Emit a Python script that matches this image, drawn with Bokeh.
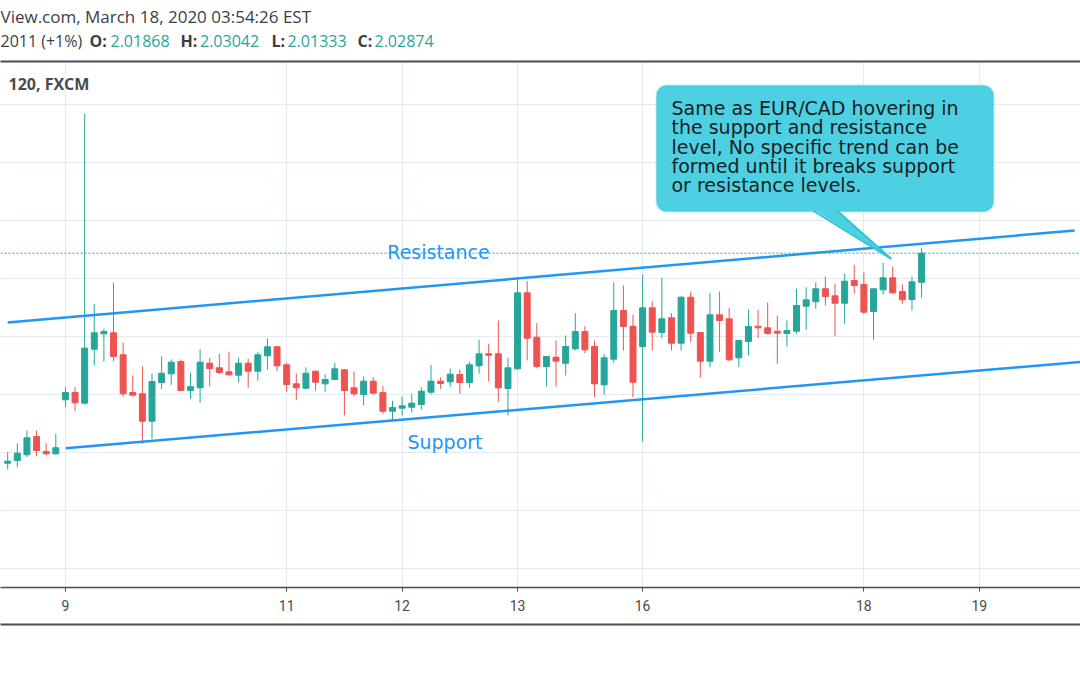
from bokeh.plotting import figure
from bokeh.layouts import column
from bokeh.models import (Range1d, FixedTicker, LinearAxis, Label, BoxAnnotation,
                          Span, Grid, ColumnDataSource)
from bokeh.embed import file_html
from bokeh.resources import INLINE

# ---------------- data (2h candles, FXCM) ----------------
opens = [
    1.95631, 1.95724, 1.95921, 1.96552, 1.96034, 1.95955, 1.97817, 1.98069, 1.97700, 1.99562,
    2.00093, 2.00128, 1.99369, 1.98069, 1.98024, 1.97079, 1.98414, 1.98714, 1.99138, 1.98138,
    1.98231, 1.99079, 1.98921, 1.98783, 1.98666, 1.99079, 1.98803, 1.99334, 1.99645, 1.99024,
    1.98369, 1.98217, 1.98803, 1.98369, 1.98517, 1.98852, 1.98231, 1.98000, 1.98459, 1.98069,
    1.97424, 1.97528, 1.97562, 1.97655, 1.98079, 1.98459, 1.98438, 1.98690, 1.98414, 1.98990,
    1.99403, 1.99403, 1.98207, 1.98886, 2.01507, 1.99976, 1.98966, 1.99286, 1.99079, 1.99576,
    2.00172, 1.99655, 1.98334, 1.99217, 2.00897, 2.00355, 1.99655, 2.00990, 2.00138, 2.00645,
    1.99769, 2.01355, 2.00138, 1.99148, 2.00748, 2.00610, 1.99266, 1.99828, 2.00355, 2.00300,
    2.00183, 2.00103, 2.00183, 2.01045, 2.01197, 2.01645, 2.01403, 2.01148, 2.01931, 2.01793,
    2.00862, 2.01610, 2.02024, 2.01552, 2.01276, 2.01868]
highs = [
    1.96010, 1.96321, 1.96759, 1.96759, 1.96321, 1.96645, 1.98252, 1.98252, 2.07679, 2.01128,
    2.00266, 2.01852, 1.99793, 1.98655, 1.98976, 1.98714, 1.99310, 1.99207, 1.99207, 1.98748,
    1.99552, 1.99266, 1.99403, 1.99472, 1.99266, 1.99231, 1.99472, 1.99931, 1.99672, 1.99103,
    1.98724, 1.98941, 1.98828, 1.98690, 1.99093, 1.98879, 1.98793, 1.98621, 1.98597, 1.98310,
    1.97783, 1.97931, 1.98024, 1.98252, 1.99024, 1.98597, 1.98897, 1.98852, 1.99128, 1.99886,
    1.99748, 2.00552, 1.99266, 2.01990, 2.01907, 2.00459, 1.99328, 1.99862, 2.00034, 2.00803,
    2.00355, 1.99862, 1.99403, 2.01872, 2.01759, 2.00748, 2.02128, 2.01217, 2.02024, 2.00803,
    2.01379, 2.01552, 2.00155, 2.01493, 2.01552, 2.00990, 1.99886, 2.00921, 2.00921, 2.01172,
    2.00724, 2.00552, 2.01645, 2.01700, 2.01872, 2.02069, 2.01817, 2.02162, 2.02472, 2.02217,
    2.01662, 2.02541, 2.02414, 2.01793, 2.02069, 2.03042]
lows = [
    1.95414, 1.95493, 1.95838, 1.95872, 1.95897, 1.95931, 1.97562, 1.97424, 1.97655, 1.99000,
    1.99138, 1.99148, 1.97931, 1.97931, 1.96300, 1.96472, 1.98183, 1.98334, 1.98121, 1.97852,
    1.97714, 1.98276, 1.98700, 1.98645, 1.98414, 1.98231, 1.98472, 1.98852, 1.98803, 1.98079,
    1.97817, 1.98183, 1.98138, 1.98093, 1.98500, 1.97276, 1.97931, 1.97621, 1.98000, 1.97334,
    1.97128, 1.97276, 1.97379, 1.97472, 1.98000, 1.98197, 1.98252, 1.98024, 1.98231, 1.98714,
    1.98459, 1.97734, 1.97276, 1.98862, 1.99172, 1.98907, 1.98276, 1.98276, 1.98655, 1.99517,
    1.99424, 1.97907, 1.97990, 1.99079, 1.99517, 1.97907, 1.96379, 1.99517, 1.99941, 1.99517,
    1.99517, 1.99803, 1.98576, 1.98941, 1.99459, 1.99148, 1.98941, 1.99345, 1.99941, 2.00069,
    1.99059, 1.99655, 2.00093, 2.00231, 2.00955, 2.01069, 2.00000, 2.00438, 2.01472, 2.00783,
    1.99897, 2.01448, 2.01472, 2.01128, 2.00897, 2.01333]
closes = [
    1.95700, 1.95976, 1.96507, 1.96069, 1.95955, 1.96162, 1.98069, 1.97714, 1.99597, 2.00128,
    2.00172, 1.99310, 1.98024, 1.97976, 1.97079, 1.98448, 1.98734, 1.99114, 1.98138, 1.98266,
    1.99114, 1.98897, 1.98759, 1.98679, 1.99079, 1.98803, 1.99369, 1.99645, 1.98990, 1.98345,
    1.98231, 1.98734, 1.98424, 1.98517, 1.98886, 1.98138, 1.98024, 1.98459, 1.98045, 1.97424,
    1.97552, 1.97610, 1.97700, 1.98114, 1.98459, 1.98379, 1.98700, 1.98414, 1.99024, 1.99403,
    1.99355, 1.98231, 1.98921, 2.01507, 1.99941, 1.98966, 1.99310, 1.99148, 1.99655, 2.00172,
    1.99541, 1.98369, 1.99266, 2.00897, 2.00345, 1.98424, 2.00990, 2.00148, 2.00610, 1.99769,
    2.01355, 2.00114, 1.99148, 2.00748, 2.00552, 1.99197, 1.99862, 2.00345, 2.00300, 2.00103,
    2.00114, 2.00207, 2.01069, 2.01266, 2.01645, 2.01379, 2.01148, 2.01907, 2.01759, 2.00838,
    2.01645, 2.02024, 2.01507, 2.01266, 2.01886, 2.02874]

tick_bars = [6, 29, 41, 53, 66, 89, 101]
tick_labels = ["9", "11", "12", "13", "16", "18", "19"]
grid_prices = [1.92, 1.94, 1.96, 1.98, 2.00, 2.02, 2.04, 2.06, 2.08]
last_price = 2.02874

# drawn trend lines (bar index, price)
resistance_x = [0.0, 110.9]
resistance_y = [2.00483, 2.03655]
support_x = [6.04, 111.6]
support_y = [1.96148, 1.99121]

callout_lines = ["Same as EUR/CAD hovering in",
                 "the support and resistance",
                 "level, No specific trend can be",
                 "formed until it breaks support",
                 "or resistance levels."]

# ---------------- layout helpers (reference pixel -> data coordinate) ----------------
def sx(px):
    return (px - 7.2) / 9.62

def sy(py):
    return 2.02 + (278 - py) / 2900.0

UP = "#26a69a"
DOWN = "#ef5350"
BLUE = "#2196f3"
GRID = "#e3ebf1"
DARK = "#4a4d57"
HDR = "#3b3e45"

# ---------------- header strip (pixel coordinates) ----------------
hdr = figure(width=1080, height=59, output_backend="svg", toolbar_location=None,
             x_range=Range1d(0, 1080), y_range=Range1d(59, 0),
             x_axis_location=None, y_axis_location=None,
             min_border_left=0, min_border_right=0, min_border_top=0, min_border_bottom=0)
hdr.grid.visible = False
hdr.outline_line_color = None
hdr.background_fill_color = "white"
hdr.border_fill_color = "white"
hdr.add_layout(Label(x=0, y=16, text="View.com, March 18, 2020 03:54:26 EST",
                     text_baseline="middle", text_font="Open Sans", text_font_size="17px",
                     text_color=HDR))
segments = [("2011 (+1%)", 0, "normal", HDR),
            ("O:", 89, "bold", HDR), ("2.01868", 110, "normal", UP),
            ("H:", 180, "bold", HDR), ("2.03042", 199.5, "normal", UP),
            ("L:", 271, "bold", HDR), ("2.01333", 287, "normal", UP),
            ("C:", 357, "bold", HDR), ("2.02874", 374, "normal", UP)]
for txt, px, style, col in segments:
    hdr.add_layout(Label(x=px, y=40, text=txt, text_baseline="middle",
                         text_font="Open Sans", text_font_size="16px",
                         text_font_style=style, text_color=col))

# ---------------- main chart ----------------
n = len(opens)
bars = list(range(n))
colors = [UP if c >= o else DOWN for o, c in zip(opens, closes)]
src = ColumnDataSource(dict(
    x=bars, o=opens, h=highs, l=lows, c=closes,
    top=[max(o, c) for o, c in zip(opens, closes)],
    bottom=[min(o, c) for o, c in zip(opens, closes)],
    color=colors))

p = figure(width=1080, height=616, output_backend="svg", toolbar_location=None,
           x_range=Range1d(sx(0), sx(1080)), y_range=Range1d(sy(587), sy(61)),
           x_axis_location="below", y_axis_location=None,
           min_border_left=0, min_border_right=0, min_border_top=2, min_border_bottom=88)
p.outline_line_color = None
p.background_fill_color = "white"
p.border_fill_color = "white"

# x axis (the figure's own bottom axis)
ax = p.below[0]
ax.ticker = FixedTicker(ticks=tick_bars)
ax.major_label_overrides = {b: t for b, t in zip(tick_bars, tick_labels)}
ax.axis_line_color = DARK
ax.axis_line_width = 1.5
ax.major_tick_line_color = DARK
ax.major_tick_in = 0
ax.major_tick_out = 4
ax.minor_tick_line_color = None
ax.major_label_text_font = "Roboto"
ax.major_label_text_font_size = "14px"
ax.major_label_text_color = "#4a4a4a"
ax.major_label_standoff = 8
ax.axis_label = " "
ax.axis_label_text_font_size = "6px"
ax.axis_label_standoff = 2

# grids
p.xgrid.ticker = FixedTicker(ticks=tick_bars)
p.xgrid.grid_line_color = GRID
p.xgrid.grid_line_width = 1
for g in p.ygrid:
    g.visible = False
p.add_layout(Grid(dimension=1, ticker=FixedTicker(ticks=grid_prices),
                  grid_line_color=GRID, grid_line_width=1))

# bottom separator line (axis with no ticks)
bottom_line = LinearAxis(ticker=FixedTicker(ticks=[]), axis_line_color=DARK, axis_line_width=2,
                         major_tick_line_color=None, minor_tick_line_color=None,
                         major_label_text_color=None)
p.add_layout(bottom_line, "below")

# top separator line (axis without ticks, sitting on the frame's top edge)
top_line = LinearAxis(ticker=FixedTicker(ticks=[]), axis_line_color=DARK, axis_line_width=2,
                      major_tick_line_color=None, minor_tick_line_color=None,
                      major_tick_out=0, major_tick_in=0, minor_tick_out=0, minor_tick_in=0,
                      major_label_standoff=0, major_label_text_color=None)
p.add_layout(top_line, "above")

# last price dotted line
p.add_layout(Span(location=last_price, dimension="width", line_color=UP,
                  line_width=1, line_dash="2 2"))

# candles
p.segment(x0="x", y0="h", x1="x", y1="l", color="color", line_width=1, source=src)
p.vbar(x="x", width=0.62, top="top", bottom="bottom", fill_color="color",
       line_color="color", line_width=1, source=src)

# trend lines
p.line(resistance_x, resistance_y, line_color=BLUE, line_width=2.5)
p.line(support_x, support_y, line_color=BLUE, line_width=2.5)

for txt, cx, cy in [("Resistance", sx(438), sy(251)), ("Support", sx(444.5), sy(441))]:
    p.add_layout(Label(x=cx, y=cy, text=txt, text_align="center", text_baseline="middle",
                       text_font="DejaVu Sans", text_font_size="19px", text_color=BLUE))

# symbol label
p.add_layout(Label(x=sx(8), y=sy(83), text="120, FXCM", text_baseline="middle",
                   text_font="Open Sans", text_font_size="16px", text_font_style="bold",
                   text_color="#4a4a4a"))

# callout
CYAN = "#4dd0e1"
CYAN_EDGE = "#33c3d8"
p.add_layout(BoxAnnotation(left=sx(656), right=sx(993), top=sy(85), bottom=sy(211),
                           fill_color=CYAN, fill_alpha=1.0, line_color=CYAN_EDGE,
                           line_width=2, border_radius=10))
p.patch([sx(813), sx(890.7), sx(836.7)], [sy(209), sy(258.3), sy(209)],
        fill_color=CYAN, line_color=None, level="overlay")
p.multi_line([[sx(813), sx(890.7)], [sx(836.7), sx(890.7)]],
             [[sy(210.5), sy(258.3)], [sy(210.5), sy(258.3)]],
             line_color=CYAN_EDGE, line_width=2, level="overlay")
for k, line in enumerate(callout_lines):
    p.add_layout(Label(x=sx(671), y=sy(107.5 + 19.3 * k), text=line, text_align="left",
                       text_baseline="middle", text_font="DejaVu Sans",
                       text_font_size="19px", text_color="#1b1e24"))

layout = column(hdr, p, spacing=0)
open("out.html", "w").write(file_html(layout, INLINE))
